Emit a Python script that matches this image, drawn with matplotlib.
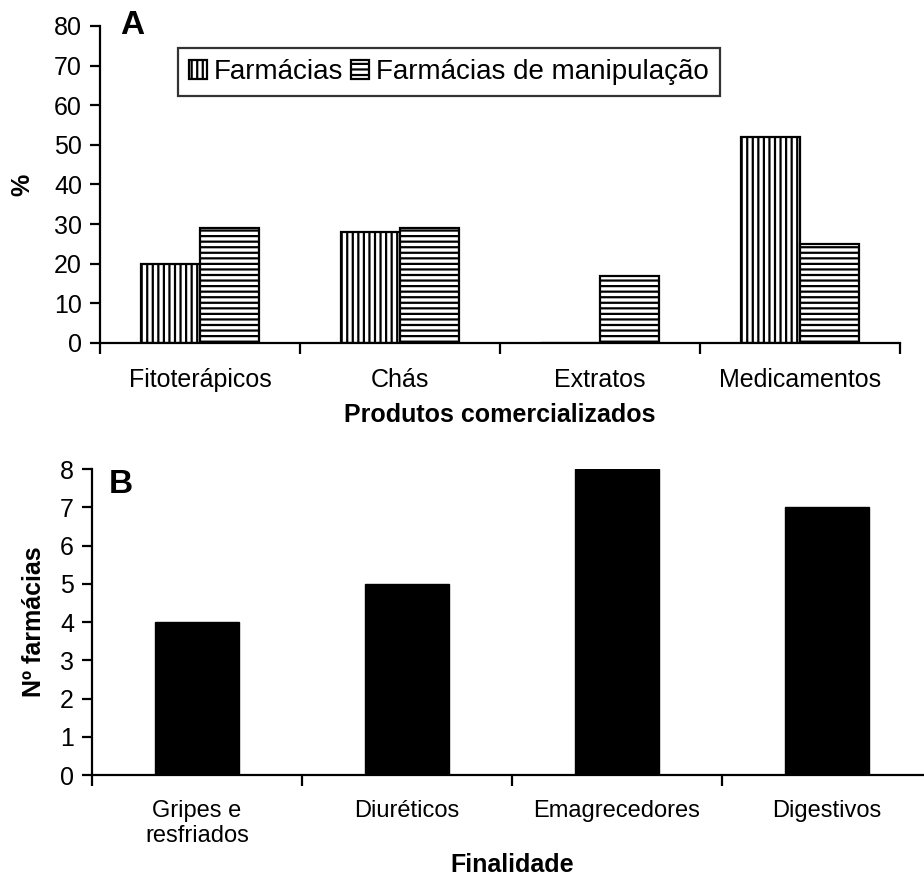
import matplotlib
matplotlib.use("Agg")
import matplotlib.pyplot as plt
import numpy as np

plt.rcParams["font.family"] = ["Liberation Sans", "DejaVu Sans"]
plt.rcParams["hatch.linewidth"] = 1.6

# panel A data
produtos = ["Fitoterápicos", "Chás", "Extratos", "Medicamentos"]
farmacias = [20, 28, 0, 52]
manipulacao = [29, 29, 17, 25]
series_names = ["Farmácias", "Farmácias de manipulação"]

# panel B data
finalidades = ["Gripes e\nresfriados", "Diuréticos", "Emagrecedores", "Digestivos"]
n_farmacias = [4, 5, 8, 7]

TICK_SIZE = 18
LABEL_SIZE = 18


def style_axes(ax, ncat):
    for side in ("top", "right"):
        ax.spines[side].set_visible(False)
    for side in ("left", "bottom"):
        ax.spines[side].set_linewidth(1.6)
    ax.set_xlim(-0.5, ncat - 0.5)
    # major ticks on category boundaries, labels as minor ticks at centers
    ax.set_xticks(np.arange(ncat + 1) - 0.5)
    ax.set_xticklabels([])
    ax.tick_params(axis="x", which="major", direction="out", length=8, width=1.6)
    ax.tick_params(axis="y", direction="out", length=7, width=1.6,
                   labelsize=TICK_SIZE, pad=6)


fig = plt.figure(figsize=(9.24, 8.77), dpi=100)

# ---- A ----
ax1 = fig.add_axes([0.1082, 0.6089, 0.8658, 0.3615])
x = np.arange(len(produtos))
w = 0.295
ax1.bar(x - w / 2, farmacias, w, color="white", edgecolor="black",
        linewidth=1.6, hatch="|||", label=series_names[0])
ax1.bar(x + w / 2, manipulacao, w, color="white", edgecolor="black",
        linewidth=1.6, hatch="---", label=series_names[1])
style_axes(ax1, len(produtos))
ax1.set_ylim(0, 80)
ax1.set_yticks(np.arange(0, 81, 10))
ax1.set_xticks(x, minor=True)
ax1.set_xticklabels(produtos, minor=True)
ax1.tick_params(axis="x", which="minor", length=0, labelsize=TICK_SIZE, pad=18)
ax1.set_xlabel("Produtos comercializados", fontsize=LABEL_SIZE,
               fontweight="bold", labelpad=8)
ax1.set_ylabel("%", fontsize=LABEL_SIZE, fontweight="bold", labelpad=14)
leg = ax1.legend(ncol=2, loc="upper left", bbox_to_anchor=(0.097, 0.93),
                 fontsize=20, frameon=True, fancybox=False,
                 handlelength=0.65, handleheight=0.65, handletextpad=0.25,
                 columnspacing=0.3, borderpad=0.4, borderaxespad=0)
leg.get_frame().set_edgecolor("black")
leg.get_frame().set_linewidth(1.6)
ax1.text(0.025, 1.05, "A", transform=ax1.transAxes, fontsize=24,
         fontweight="bold", va="top", ha="left")

# ---- B ----
ax2 = fig.add_axes([0.0996, 0.1163, 0.909, 0.3489])
xb = np.arange(len(finalidades))
ax2.bar(xb, n_farmacias, 0.40, color="black", edgecolor="black")
style_axes(ax2, len(finalidades))
ax2.set_ylim(0, 8)
ax2.set_yticks(np.arange(0, 9, 1))
ax2.set_xticks(xb, minor=True)
ax2.set_xticklabels(finalidades, minor=True)
ax2.tick_params(axis="x", which="minor", length=0, labelsize=TICK_SIZE - 1, pad=18)
ax2.set_xlabel("Finalidade", fontsize=LABEL_SIZE, fontweight="bold", labelpad=4)
ax2.set_ylabel("Nº farmácias", fontsize=LABEL_SIZE, fontweight="bold", labelpad=10)
ax2.text(0.02, 1.0, "B", transform=ax2.transAxes, fontsize=24,
         fontweight="bold", va="top", ha="left")

fig.savefig("out.png", dpi=100)
